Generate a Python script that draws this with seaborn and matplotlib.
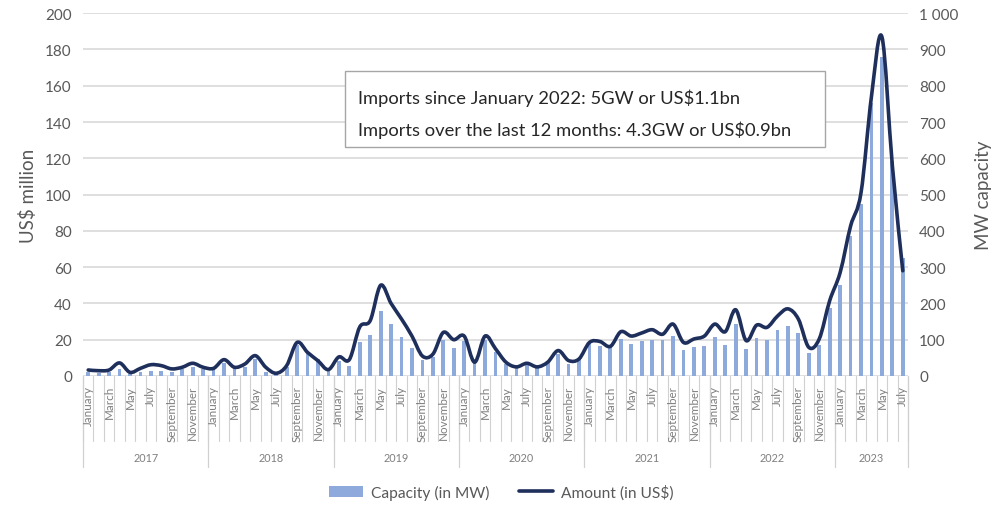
import numpy as np
import pandas as pd
import seaborn as sns
import matplotlib
matplotlib.use("Agg")
import matplotlib.pyplot as plt
from matplotlib.path import Path
from matplotlib.patches import PathPatch, Patch, Rectangle
from matplotlib.lines import Line2D
from matplotlib.transforms import blended_transform_factory

# ---- data -------------------------------------------------------------
years = ["2017", "2018", "2019", "2020", "2021", "2022", "2023"]
month_names = ["January", "February", "March", "April", "May", "June",
               "July", "August", "September", "October", "November", "December"]
months_2023 = 7

# capacity imported per month (MW)
capacity_mw = [
    12, 8, 10, 20, 6, 10, 15, 15, 12, 18, 25, 20,            # 2017
    21, 36, 21, 24, 47, 10, 5, 24, 84, 65, 47, 19,           # 2018
    42, 28, 95, 113, 180, 143, 107, 76, 44, 52, 100, 76,     # 2019
    97, 47, 98, 65, 33, 24, 33, 24, 38, 60, 33, 47,          # 2020
    93, 83, 79, 102, 88, 97, 100, 100, 111, 72, 79, 82,      # 2021
    107, 86, 143, 73, 104, 100, 128, 139, 118, 62, 84, 188,  # 2022
    252, 385, 475, 752, 880, 592, 326,                       # 2023
]

# value imported per month (US$ million)
amount_usd = [
    3.3, 2.9, 3.3, 7.2, 2.0, 4.2, 6.2, 5.7, 3.9, 4.8, 7.0, 4.8,
    4.2, 9.0, 4.8, 6.6, 11.2, 4.8, 1.5, 5.7, 18.5, 13.0, 8.4, 3.5,
    10.5, 9.0, 27.0, 30.5, 50.0, 40.0, 31.4, 22.0, 11.0, 12.0, 24.0, 20.0,
    22.0, 7.6, 22.0, 15.0, 7.6, 5.0, 7.0, 5.0, 7.6, 14.0, 8.5, 9.4,
    18.5, 19.0, 16.3, 24.4, 22.0, 23.7, 25.5, 23.0, 28.6, 18.5, 20.4, 22.0,
    28.6, 24.4, 36.5, 19.5, 28.0, 26.8, 33.0, 37.0, 31.4, 15.8, 20.4, 41.5,
    57.0, 82.6, 101.0, 154.0, 187.0, 116.0, 58.0,
]

note_lines = ["Imports since January 2022: 5GW or US$1.1bn",
              "Imports over the last 12 months: 4.3GW or US$0.9bn"]

# ---- build the monthly table -----------------------------------------
rows = []
for y in years:
    n = months_2023 if y == "2023" else 12
    for m in range(n):
        rows.append((y, month_names[m], f"{y}-{m + 1:02d}"))
df = pd.DataFrame(rows, columns=["year", "month", "period"])
df["capacity"] = capacity_mw
df["amount"] = amount_usd
n = len(df)

# ---- style ------------------------------------------------------------
sns.set_theme(style="white")
plt.rcParams["font.family"] = ["Lato", "DejaVu Sans"]
grey_txt = "#595959"
bar_col = "#8EA9DB"
line_col = "#1F2F5C"
grid_col = "#D9D9D9"

fig = plt.figure(figsize=(10, 5.06), dpi=100)
ax = fig.add_axes([0.083, 0.255, 0.825, 0.717])
ax2 = ax.twinx()

# bars: capacity on the right-hand MW axis
sns.barplot(data=df, x="period", y="capacity", ax=ax2, color=bar_col,
            width=0.36, saturation=1, linewidth=0)
ax2.set_ylim(0, 1000)
ax2.set_yticks(np.arange(0, 1001, 100))
ax2.set_yticklabels([f"{v:,}".replace(",", " ") for v in range(0, 1001, 100)])
ax2.yaxis.grid(True, color=grid_col, linewidth=1.2)
ax2.set_axisbelow(True)
ax2.set_ylabel("MW capacity", fontsize=13.5, color=grey_txt, labelpad=12)
ax2.set_xlabel("")

# smoothed line: amount on the left-hand US$ axis
ax.set_zorder(ax2.get_zorder() + 1)
ax.patch.set_visible(False)
xs = np.arange(n, dtype=float)
ys = np.asarray(amount_usd, dtype=float)
verts = [(xs[0], ys[0])]
codes = [Path.MOVETO]
for i in range(n - 1):
    p0 = np.array([xs[max(i - 1, 0)], ys[max(i - 1, 0)]])
    p1 = np.array([xs[i], ys[i]])
    p2 = np.array([xs[i + 1], ys[i + 1]])
    p3 = np.array([xs[min(i + 2, n - 1)], ys[min(i + 2, n - 1)]])
    c1 = p1 + (p2 - p0) / 6.0
    c2 = p2 - (p3 - p1) / 6.0
    verts += [tuple(c1), tuple(c2), tuple(p2)]
    codes += [Path.CURVE4] * 3
ax.add_patch(PathPatch(Path(verts, codes), facecolor="none",
                       edgecolor=line_col, linewidth=2.6, capstyle="round",
                       joinstyle="round"))
ax.set_ylim(0, 200)
ax.set_yticks(np.arange(0, 201, 20))
ax.set_xlim(-0.5, n - 0.5)
ax2.set_xlim(-0.5, n - 0.5)
ax.set_ylabel("US$ million", fontsize=13.5, color=grey_txt, labelpad=6)

for a in (ax, ax2):
    for s in a.spines.values():
        s.set_visible(False)
    a.tick_params(axis="y", length=0, labelsize=11, labelcolor=grey_txt, pad=8)
    a.set_xticks([])

# ---- two-level category axis ------------------------------------------
tr = blended_transform_factory(ax.transData, ax.transAxes)
sep_col = "#D0D0D0"
for i in range(n + 1):
    ax.plot([i - 0.5, i - 0.5], [0, -0.18], transform=tr, color=sep_col,
            lw=0.8, clip_on=False)
for i, m in enumerate(df["month"]):
    if month_names.index(m) % 2 == 0:
        ax.text(i, -0.025, m, transform=tr, rotation=90, ha="center",
                va="top", fontsize=8.4, color="#7F7F7F")
start = 0
for y in years:
    cnt = int((df["year"] == y).sum())
    ax.plot([start - 0.5, start - 0.5], [0, -0.25], transform=tr,
            color=sep_col, lw=0.9, clip_on=False)
    ax.text(start + (cnt - 1) / 2, -0.224, y, transform=tr, ha="center",
            va="center", fontsize=7.8, color="#7F7F7F")
    start += cnt
ax.plot([n - 0.5, n - 0.5], [0, -0.25], transform=tr, color=sep_col,
        lw=0.9, clip_on=False)

# ---- annotation box ---------------------------------------------------
fig.patches.append(Rectangle((0.345, 1 - 148 / 506), 0.48, 76 / 506,
                             transform=fig.transFigure, facecolor="white",
                             edgecolor="#A6A6A6", linewidth=1.0, zorder=5))
fig.text(0.358, 1 - 98 / 506, note_lines[0], fontsize=13.2, color="#262626",
         va="center", ha="left", zorder=6)
fig.text(0.358, 1 - 130 / 506, note_lines[1], fontsize=13.2, color="#262626",
         va="center", ha="left", zorder=6)

# ---- legend -----------------------------------------------------------
handles = [Patch(facecolor=bar_col, edgecolor="none"),
           Line2D([0], [0], color=line_col, lw=2.6)]
fig.legend(handles, ["Capacity (in MW)", "Amount (in US$)"], loc="center",
           bbox_to_anchor=(0.5015, 1 - 493 / 506), ncol=2, frameon=False,
           fontsize=11.2, labelcolor=grey_txt, handlelength=2.2,
           handletextpad=0.5, columnspacing=1.9, handleheight=0.7)

fig.savefig("out.png", dpi=100)
